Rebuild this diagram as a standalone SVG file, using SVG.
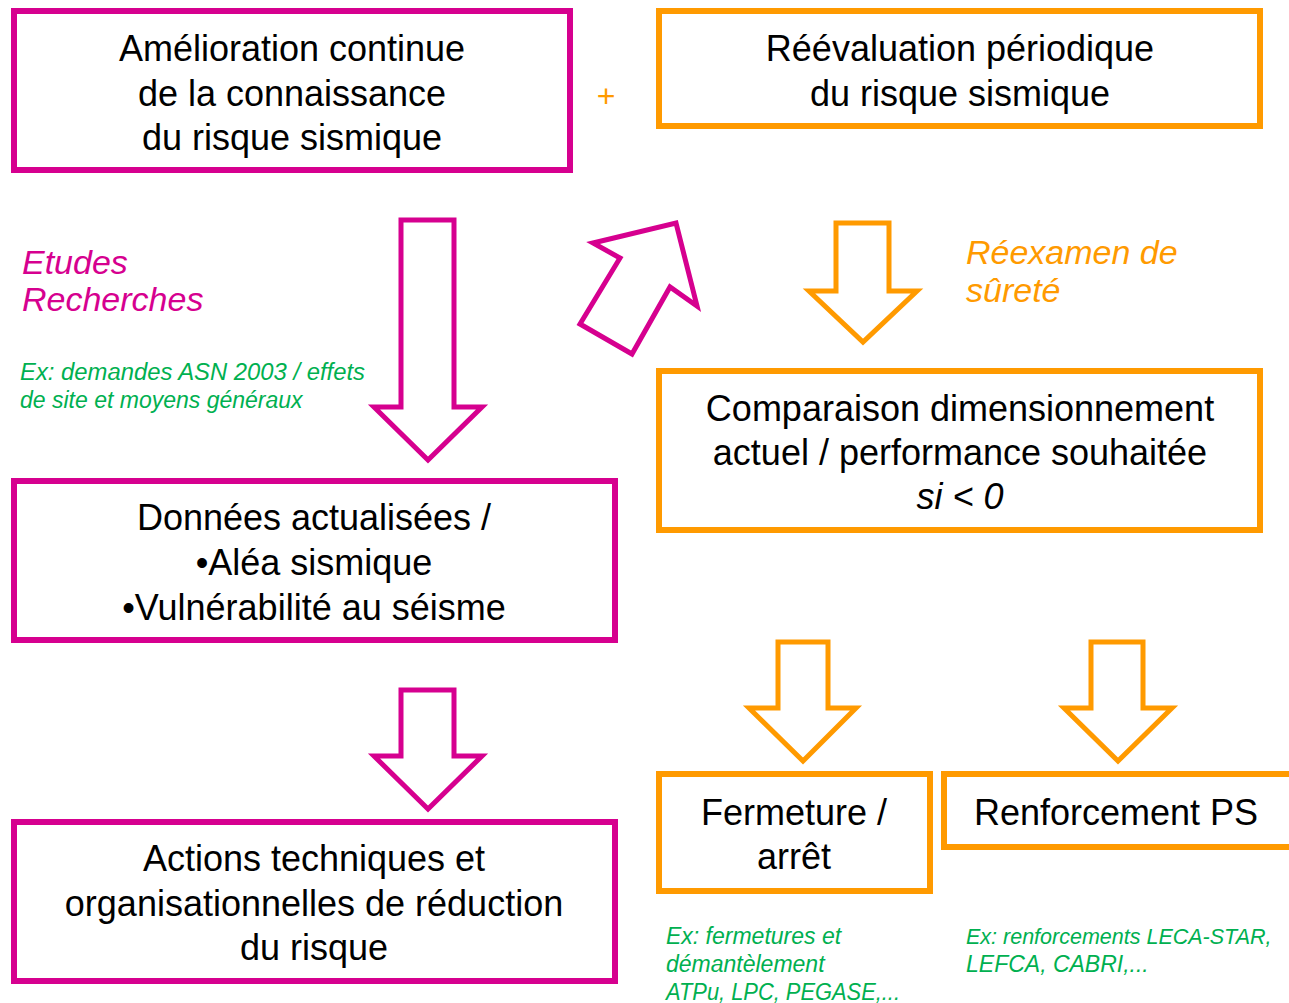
<svg xmlns="http://www.w3.org/2000/svg" width="1289" height="1003" viewBox="0 0 1289 1003">
<style>
.bm{fill:#fff;stroke:#D6008F;stroke-width:6}
.bo{fill:#fff;stroke:#FF9A00;stroke-width:6}
.am{fill:none;stroke:#D6008F;stroke-width:5;stroke-linejoin:miter}
.ao{fill:none;stroke:#FF9A00;stroke-width:5;stroke-linejoin:miter}
.t{font-family:"Liberation Sans",Arial,sans-serif;font-size:36px;fill:#000;text-anchor:middle}
.i{font-style:italic}
.m{font-family:"Liberation Sans",Arial,sans-serif;font-size:34px;font-style:italic;fill:#D6008F}
.o{font-family:"Liberation Sans",Arial,sans-serif;font-size:34px;font-style:italic;fill:#FF9A00}
.g{font-family:"Liberation Sans",Arial,sans-serif;font-size:23px;font-style:italic;fill:#00B050}
</style>
<g id="box-amelioration">
<rect class="bm" x="14" y="11" width="556" height="159"/>
<text class="t" x="292" y="61">Amélioration continue</text>
<text class="t" x="292" y="106">de la connaissance</text>
<text class="t" x="292" y="150">du risque sismique</text>
</g>
<g id="plus"><text x="606" y="107" style="font-family:'Liberation Sans',Arial,sans-serif;font-size:32px;fill:#FF9A00;text-anchor:middle">+</text></g>
<g id="box-reevaluation">
<rect class="bo" x="659" y="11" width="601" height="115"/>
<text class="t" x="960" y="61">Réévaluation périodique</text>
<text class="t" x="960" y="106">du risque sismique</text>
</g>
<g id="label-etudes">
<text class="m" x="22" y="274">Etudes</text>
<text class="m" x="22" y="311">Recherches</text>
</g>
<g id="label-ex1">
<text class="g" x="20" y="380" textLength="345" lengthAdjust="spacingAndGlyphs">Ex: demandes ASN 2003 / effets</text>
<text class="g" x="20" y="408">de site et moyens généraux</text>
</g>
<g id="label-reexamen">
<text class="o" x="966" y="264">Réexamen de</text>
<text class="o" x="966" y="302">sûreté</text>
</g>
<g id="box-comparaison">
<rect class="bo" x="659" y="371" width="601" height="159"/>
<text class="t" x="960" y="421">Comparaison dimensionnement</text>
<text class="t" x="960" y="465">actuel / performance souhaitée</text>
<text class="t i" x="960" y="509">si &lt; 0</text>
</g>
<g id="box-donnees">
<rect class="bm" x="14" y="481" width="601" height="159"/>
<text class="t" x="314" y="530">Données actualisées /</text>
<text class="t" x="314" y="575">•Aléa sismique</text>
<text class="t" x="314" y="620">•Vulnérabilité au séisme</text>
</g>
<g id="box-actions">
<rect class="bm" x="14" y="822" width="601" height="159"/>
<text class="t" x="314" y="871">Actions techniques et</text>
<text class="t" x="314" y="916">organisationnelles de réduction</text>
<text class="t" x="314" y="960">du risque</text>
</g>
<g id="box-fermeture">
<rect class="bo" x="659" y="774" width="271" height="117"/>
<text class="t" x="794" y="825">Fermeture /</text>
<text class="t" x="794" y="869">arrêt</text>
</g>
<g id="box-renforcement">
<rect class="bo" x="944" y="774" width="350" height="73"/>
<text class="t" x="1116" y="825">Renforcement PS</text>
</g>
<g id="label-ex2">
<text class="g" x="666" y="944">Ex: fermetures et</text>
<text class="g" x="666" y="972">démantèlement</text>
<text class="g" x="666" y="1000" textLength="234" lengthAdjust="spacingAndGlyphs">ATPu, LPC, PEGASE,...</text>
</g>
<g id="label-ex3">
<text class="g" x="966" y="944" style="font-size:21.5px">Ex: renforcements LECA-STAR,</text>
<text class="g" x="966" y="972">LEFCA, CABRI,...</text>
</g>
<g id="connectors">
<path class="am" d="M401,220 H454 V407 H482 L428,460 L374,407 H401 Z"/>
<path class="am" d="M401,690 H454 V756 H482 L428,809 L374,756 H401 Z"/>
<path class="am" d="M632,354 L580,324 L620,258 L593,243 L676,223 L697,306 L670,287 Z"/>
<path class="ao" d="M836,223 H889 V291 H917 L863,342 L809,291 H836 Z"/>
<path class="ao" d="M778,642 H828 V708 H856 L803,761 L749,708 H778 Z"/>
<path class="ao" d="M1091,642 H1143 V708 H1172 L1118,761 L1064,708 H1091 Z"/>
</g>
</svg>
